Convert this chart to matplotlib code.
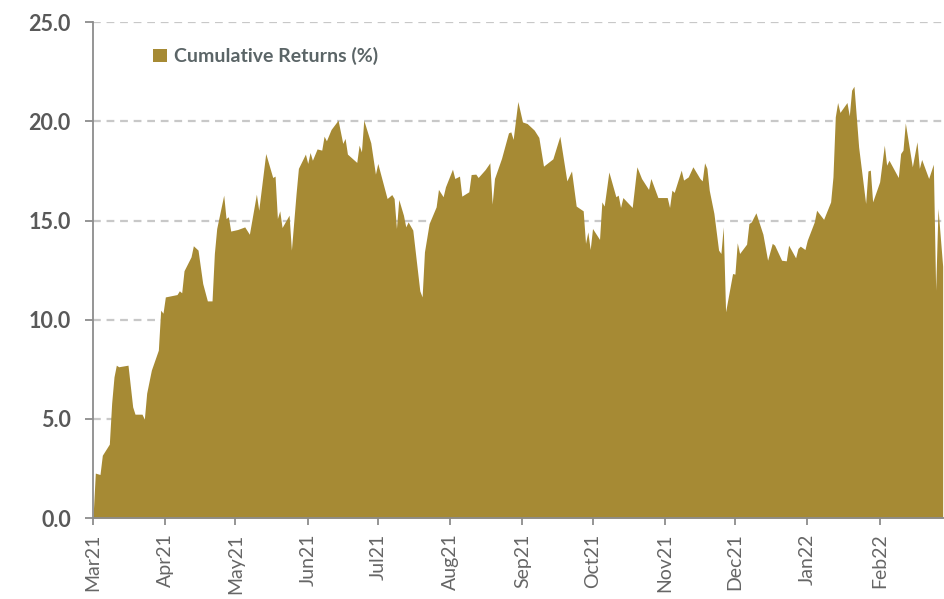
import matplotlib
matplotlib.use('Agg')
import matplotlib.pyplot as plt
import matplotlib.dates as mdates
import pandas as pd

# days after 1 Mar 2021 and cumulative return (%)
day_offsets = [0, 1, 3, 4, 7, 8, 9, 10, 11, 15, 17, 18, 21, 22, 23, 25, 28, 29, 30, 31,
               36, 37, 38, 39, 42, 43, 45, 47, 49, 51, 52, 53, 56, 57, 58, 59, 62, 65, 67, 70,
               71, 74, 77, 78, 79, 80, 81, 84, 85, 87, 88, 91, 92, 93, 94, 96, 98, 99, 100, 102,
               105, 107, 108, 109, 113, 114, 115, 116, 119, 121, 122, 126, 128, 129, 130, 131, 133, 134, 135, 137,
               140, 141, 142, 144, 147, 148, 150, 151, 154, 155, 157, 158, 161, 162, 164, 165, 168, 170, 171, 172,
               175, 178, 179, 180, 182, 184, 186, 189, 191, 193, 197, 200, 203, 205, 207, 210, 211, 212, 213, 214,
               217, 218, 219, 221, 224, 225, 226, 227, 231, 233, 235, 238, 239, 242, 246, 247, 248, 249, 252, 253,
               255, 257, 260, 261, 262, 263, 264, 266, 268, 269, 270, 271, 274, 275, 276, 277, 280, 281, 282, 284,
               287, 289, 291, 292, 295, 297, 298, 301, 302, 303, 305, 306, 309, 310, 313, 316, 317, 318, 319, 320,
               323, 324, 325, 326, 328, 331, 332, 333, 334, 337, 339, 340, 341, 345, 346, 347, 348, 351, 353, 354,
               355, 358, 360, 361, 362, 364]
cum_returns = [0.0, 2.27, 2.2, 3.17, 3.73, 5.8, 7.12, 7.71, 7.63, 7.71, 5.61, 5.24, 5.24, 4.99, 6.3, 7.46, 8.47, 10.48, 10.33, 11.15,
               11.27, 11.46, 11.36, 12.47, 13.17, 13.73, 13.51, 11.83, 10.95, 10.95, 13.34, 14.6, 16.28, 15.1, 15.19, 14.47, 14.55, 14.68, 14.31, 16.33,
               15.52, 18.38, 17.17, 17.24, 15.1, 15.49, 14.65, 15.27, 13.51, 16.36, 17.63, 18.35, 17.88, 18.43, 18.04, 18.61, 18.55, 19.25, 19.02, 19.59,
               20.06, 18.89, 19.14, 18.35, 17.93, 18.8, 18.46, 20.06, 18.92, 17.34, 17.88, 16.11, 16.31, 16.11, 14.6, 16.06, 15.27, 14.68, 14.93, 14.52,
               11.46, 11.15, 13.42, 14.85, 15.69, 16.57, 16.2, 16.7, 17.59, 17.12, 17.24, 16.23, 16.45, 17.32, 17.34, 17.17, 17.57, 17.91, 15.83, 17.12,
               18.13, 19.42, 19.47, 19.09, 21.0, 19.97, 19.89, 19.56, 19.19, 17.74, 18.11, 19.25, 17.0, 17.5, 15.73, 15.49, 13.85, 14.43, 13.54, 14.6,
               14.05, 15.94, 15.73, 17.45, 16.2, 16.28, 15.66, 16.16, 15.66, 17.71, 17.12, 16.57, 17.12, 16.16, 16.16, 15.66, 16.53, 16.42, 17.54, 17.04,
               17.2, 17.71, 17.12, 17.0, 17.91, 17.63, 16.53, 15.36, 13.51, 13.34, 14.68, 10.4, 12.33, 12.3, 13.88, 13.34, 13.81, 14.85, 14.93, 15.39,
               14.31, 13.0, 13.85, 13.76, 13.0, 12.97, 13.76, 13.12, 13.59, 13.71, 13.54, 14.01, 14.93, 15.52, 15.06, 15.94, 17.2, 20.23, 20.95, 20.45,
               20.95, 20.28, 21.57, 21.77, 18.71, 15.86, 17.5, 17.54, 15.94, 16.95, 18.8, 17.79, 18.04, 17.17, 18.38, 18.55, 19.92, 17.71, 18.97, 17.63,
               18.08, 17.12, 17.84, 11.49, 15.61, 12.7]
y_ticks = [0, 5, 10, 15, 20, 25]

start = pd.Timestamp('2021-03-01')
dates = start + pd.to_timedelta(day_offsets, unit='D')
months = pd.date_range('2021-03-01', '2022-02-01', freq='MS')

gold = '#A68A34'
plt.rcParams['font.family'] = ['Lato', 'DejaVu Sans']

fig = plt.figure(figsize=(9.45, 5.99), dpi=100)
ax = fig.add_axes([0.0984, 0.135, 0.9016, 0.828])
ax.set_axisbelow(True)

ax.fill_between(dates, cum_returns, 0, color=gold, lw=0, zorder=2,
                label='Cumulative Returns (%)')

ax.set_ylim(0, 25)
ax.set_xlim(start, pd.Timestamp('2022-03-01'))
ax.set_yticks(y_ticks)
ax.set_yticklabels(['%.1f' % v for v in y_ticks], fontsize=15.5, fontweight='bold', color='#595959')
ax.set_xticks(months)
ax.xaxis.set_major_formatter(mdates.DateFormatter('%b%y'))
for lab in ax.get_xticklabels():
    lab.set_rotation(90)
    lab.set_fontsize(14)
    lab.set_color('#666666')

ax.yaxis.grid(True, color='#c8c8c8', lw=1.6, linestyle=(0, (3.5, 2.6)))

for side in ['top', 'right']:
    ax.spines[side].set_visible(False)
for side in ['left', 'bottom']:
    ax.spines[side].set_color('#8c8c8c')
    ax.spines[side].set_linewidth(1.3)
    ax.spines[side].set_zorder(3)
ax.tick_params(axis='y', length=6, width=1.3, color='#8c8c8c', pad=10)
ax.tick_params(axis='x', length=5, width=1.3, color='#8c8c8c', pad=6)

leg = ax.legend(loc='upper left', bbox_to_anchor=(0.05, 0.985), frameon=False,
                handlelength=0.7, handleheight=0.7, handletextpad=0.35,
                prop={'size': 14, 'weight': 'bold'})
for t in leg.get_texts():
    t.set_color('#5b6567')

fig.savefig('out.png', dpi=100)
